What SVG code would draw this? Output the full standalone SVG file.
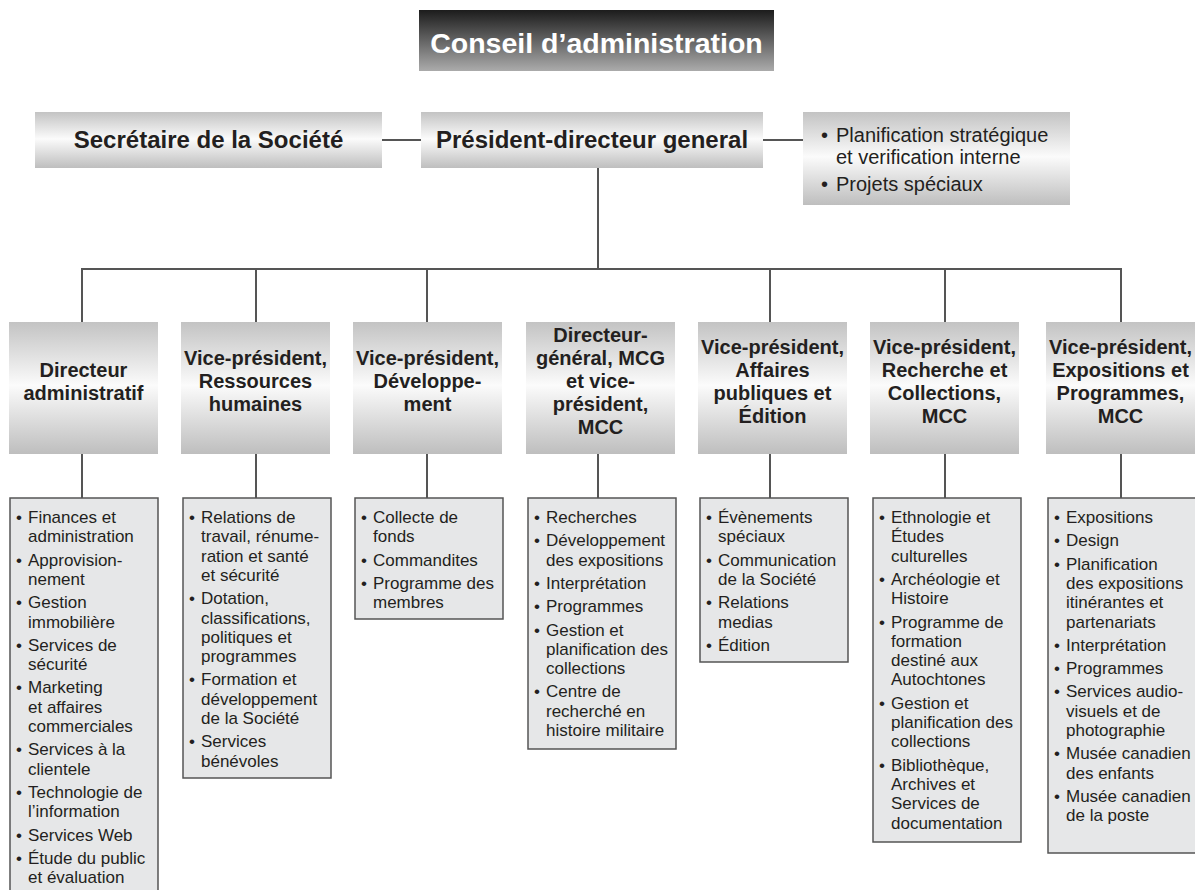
<svg xmlns="http://www.w3.org/2000/svg" width="1195" height="890" viewBox="0 0 1195 890">
<defs>
<linearGradient id="gTitle" x1="0" y1="0" x2="0" y2="1">
<stop offset="0" stop-color="#1c1c1c"/><stop offset="1" stop-color="#ababab"/>
</linearGradient>
<linearGradient id="gBox" x1="0" y1="0" x2="0" y2="1">
<stop offset="0" stop-color="#c3c3c3"/><stop offset="0.48" stop-color="#fbfbfb"/><stop offset="1" stop-color="#bebebe"/>
</linearGradient>
</defs>
<style>
.hb{fill:url(#gBox);}
.lb{fill:#e6e7e8;stroke:#555;stroke-width:1.5;}
.ln{stroke:#555;stroke-width:2;fill:none;}
.t{font-family:"Liberation Sans",Arial,sans-serif;fill:#231f20;}
.tb{font-family:"Liberation Sans",Arial,sans-serif;font-weight:bold;fill:#231f20;}
.h{font-size:20px;text-anchor:middle;}
.li{font-size:17px;}
</style>
<g id="connectors">
<line class="ln" x1="382" y1="140" x2="421" y2="140"/>
<line class="ln" x1="763" y1="140" x2="803" y2="140"/>
<line class="ln" x1="598" y1="168" x2="598" y2="269"/>
<line class="ln" x1="81" y1="269" x2="1122" y2="269"/>
<path class="ln" d="M82 269V322M256 269V322M427 269V322M770 269V322M945 269V322M1121 269V322"/>
<path class="ln" d="M82 454V498M256 454V498M427 454V498M598 454V498M770 454V498M945 454V498M1121 454V498"/>
</g>
<g id="conseil">
<rect x="419" y="10" width="355" height="61" fill="url(#gTitle)"/>
<text x="596.5" y="53" font-family="Liberation Sans,Arial,sans-serif" font-weight="bold" font-size="28.5" fill="#ffffff" text-anchor="middle">Conseil d’administration</text>
</g>
<g id="secretaire">
<rect class="hb" x="35" y="112" width="347" height="56"/>
<text class="tb" x="208.5" y="148" font-size="24" text-anchor="middle">Secrétaire de la Société</text>
</g>
<g id="president">
<rect class="hb" x="421" y="112" width="342" height="56"/>
<text class="tb" x="592" y="148" font-size="24" text-anchor="middle">Président-directeur general</text>
</g>
<g id="planification">
<rect class="hb" x="803" y="112" width="267" height="93"/>
<text class="t" font-size="20"><tspan x="821" y="142">•</tspan><tspan x="836" y="142">Planification stratégique</tspan><tspan x="836" y="164">et verification interne</tspan><tspan x="821" y="191">•</tspan><tspan x="836" y="191">Projets spéciaux</tspan></text>
</g>
<g id="h1">
<rect class="hb" x="9" y="322" width="149" height="132"/>
<text class="tb h"><tspan x="83.5" y="376.5">Directeur</tspan><tspan x="83.5" y="399.5">administratif</tspan></text>
</g>
<g id="h2">
<rect class="hb" x="181" y="322" width="149" height="132"/>
<text class="tb h"><tspan x="255.5" y="365">Vice-président,</tspan><tspan x="255.5" y="388">Ressources</tspan><tspan x="255.5" y="411">humaines</tspan></text>
</g>
<g id="h3">
<rect class="hb" x="353" y="322" width="149" height="132"/>
<text class="tb h"><tspan x="427.5" y="365">Vice-président,</tspan><tspan x="427.5" y="388">Développe-</tspan><tspan x="427.5" y="411">ment</tspan></text>
</g>
<g id="h4">
<rect class="hb" x="526" y="322" width="149" height="132"/>
<text class="tb h"><tspan x="600.5" y="342">Directeur-</tspan><tspan x="600.5" y="365">général, MCG</tspan><tspan x="600.5" y="388">et vice-</tspan><tspan x="600.5" y="411">président,</tspan><tspan x="600.5" y="434">MCC</tspan></text>
</g>
<g id="h5">
<rect class="hb" x="698" y="322" width="149" height="132"/>
<text class="tb h"><tspan x="772.5" y="353.5">Vice-président,</tspan><tspan x="772.5" y="376.5">Affaires</tspan><tspan x="772.5" y="399.5">publiques et</tspan><tspan x="772.5" y="422.5">Édition</tspan></text>
</g>
<g id="h6">
<rect class="hb" x="870" y="322" width="149" height="132"/>
<text class="tb h"><tspan x="944.5" y="353.5">Vice-président,</tspan><tspan x="944.5" y="376.5">Recherche et</tspan><tspan x="944.5" y="399.5">Collections,</tspan><tspan x="944.5" y="422.5">MCC</tspan></text>
</g>
<g id="h7">
<rect class="hb" x="1046" y="322" width="149" height="132"/>
<text class="tb h"><tspan x="1120.5" y="353.5">Vice-président,</tspan><tspan x="1120.5" y="376.5">Expositions et</tspan><tspan x="1120.5" y="399.5">Programmes,</tspan><tspan x="1120.5" y="422.5">MCC</tspan></text>
</g>
<g id="l1">
<rect class="lb" x="10" y="498" width="148" height="400"/>
<text class="t li"><tspan x="16" y="523">•</tspan><tspan x="28" y="523">Finances et</tspan><tspan x="28" y="542.3">administration</tspan><tspan x="16" y="565.6">•</tspan><tspan x="28" y="565.6">Approvision-</tspan><tspan x="28" y="584.9">nement</tspan><tspan x="16" y="608.2">•</tspan><tspan x="28" y="608.2">Gestion</tspan><tspan x="28" y="627.5">immobilière</tspan><tspan x="16" y="650.8">•</tspan><tspan x="28" y="650.8">Services de</tspan><tspan x="28" y="670.1">sécurité</tspan><tspan x="16" y="693.4">•</tspan><tspan x="28" y="693.4">Marketing</tspan><tspan x="28" y="712.7">et affaires</tspan><tspan x="28" y="732">commerciales</tspan><tspan x="16" y="755.3">•</tspan><tspan x="28" y="755.3">Services à la</tspan><tspan x="28" y="774.6">clientele</tspan><tspan x="16" y="797.9">•</tspan><tspan x="28" y="797.9">Technologie de</tspan><tspan x="28" y="817.2">l’information</tspan><tspan x="16" y="840.5">•</tspan><tspan x="28" y="840.5">Services Web</tspan><tspan x="16" y="863.8">•</tspan><tspan x="28" y="863.8">Étude du public</tspan><tspan x="28" y="883.1">et évaluation</tspan></text>
</g>
<g id="l2">
<rect class="lb" x="183" y="498" width="148" height="280"/>
<text class="t li"><tspan x="189" y="523">•</tspan><tspan x="201" y="523">Relations de</tspan><tspan x="201" y="542.3">travail, rénume-</tspan><tspan x="201" y="561.6">ration et santé</tspan><tspan x="201" y="580.9">et sécurité</tspan><tspan x="189" y="604.2">•</tspan><tspan x="201" y="604.2">Dotation,</tspan><tspan x="201" y="623.5">classifications,</tspan><tspan x="201" y="642.8">politiques et</tspan><tspan x="201" y="662.1">programmes</tspan><tspan x="189" y="685.4">•</tspan><tspan x="201" y="685.4">Formation et</tspan><tspan x="201" y="704.7">développement</tspan><tspan x="201" y="724">de la Société</tspan><tspan x="189" y="747.3">•</tspan><tspan x="201" y="747.3">Services</tspan><tspan x="201" y="766.6">bénévoles</tspan></text>
</g>
<g id="l3">
<rect class="lb" x="355" y="498" width="148" height="121"/>
<text class="t li"><tspan x="361" y="523">•</tspan><tspan x="373" y="523">Collecte de</tspan><tspan x="373" y="542.3">fonds</tspan><tspan x="361" y="565.6">•</tspan><tspan x="373" y="565.6">Commandites</tspan><tspan x="361" y="588.9">•</tspan><tspan x="373" y="588.9">Programme des</tspan><tspan x="373" y="608.2">membres</tspan></text>
</g>
<g id="l4">
<rect class="lb" x="528" y="498" width="148" height="251"/>
<text class="t li"><tspan x="534" y="523">•</tspan><tspan x="546" y="523">Recherches</tspan><tspan x="534" y="546.3">•</tspan><tspan x="546" y="546.3">Développement</tspan><tspan x="546" y="565.6">des expositions</tspan><tspan x="534" y="588.9">•</tspan><tspan x="546" y="588.9">Interprétation</tspan><tspan x="534" y="612.2">•</tspan><tspan x="546" y="612.2">Programmes</tspan><tspan x="534" y="635.5">•</tspan><tspan x="546" y="635.5">Gestion et</tspan><tspan x="546" y="654.8">planification des</tspan><tspan x="546" y="674.1">collections</tspan><tspan x="534" y="697.4">•</tspan><tspan x="546" y="697.4">Centre de</tspan><tspan x="546" y="716.7">recherché en</tspan><tspan x="546" y="736">histoire militaire</tspan></text>
</g>
<g id="l5">
<rect class="lb" x="700" y="498" width="148" height="164"/>
<text class="t li"><tspan x="706" y="523">•</tspan><tspan x="718" y="523">Évènements</tspan><tspan x="718" y="542.3">spéciaux</tspan><tspan x="706" y="565.6">•</tspan><tspan x="718" y="565.6">Communication</tspan><tspan x="718" y="584.9">de la Société</tspan><tspan x="706" y="608.2">•</tspan><tspan x="718" y="608.2">Relations</tspan><tspan x="718" y="627.5">medias</tspan><tspan x="706" y="650.8">•</tspan><tspan x="718" y="650.8">Édition</tspan></text>
</g>
<g id="l6">
<rect class="lb" x="873" y="498" width="148" height="344"/>
<text class="t li"><tspan x="879" y="523">•</tspan><tspan x="891" y="523">Ethnologie et</tspan><tspan x="891" y="542.3">Études</tspan><tspan x="891" y="561.6">culturelles</tspan><tspan x="879" y="584.9">•</tspan><tspan x="891" y="584.9">Archéologie et</tspan><tspan x="891" y="604.2">Histoire</tspan><tspan x="879" y="627.5">•</tspan><tspan x="891" y="627.5">Programme de</tspan><tspan x="891" y="646.8">formation</tspan><tspan x="891" y="666.1">destiné aux</tspan><tspan x="891" y="685.4">Autochtones</tspan><tspan x="879" y="708.7">•</tspan><tspan x="891" y="708.7">Gestion et</tspan><tspan x="891" y="728">planification des</tspan><tspan x="891" y="747.3">collections</tspan><tspan x="879" y="770.6">•</tspan><tspan x="891" y="770.6">Bibliothèque,</tspan><tspan x="891" y="789.9">Archives et</tspan><tspan x="891" y="809.2">Services de</tspan><tspan x="891" y="828.5">documentation</tspan></text>
</g>
<g id="l7">
<rect class="lb" x="1048" y="498" width="150" height="355"/>
<text class="t li"><tspan x="1054" y="523">•</tspan><tspan x="1066" y="523">Expositions</tspan><tspan x="1054" y="546.3">•</tspan><tspan x="1066" y="546.3">Design</tspan><tspan x="1054" y="569.6">•</tspan><tspan x="1066" y="569.6">Planification</tspan><tspan x="1066" y="588.9">des expositions</tspan><tspan x="1066" y="608.2">itinérantes et</tspan><tspan x="1066" y="627.5">partenariats</tspan><tspan x="1054" y="650.8">•</tspan><tspan x="1066" y="650.8">Interprétation</tspan><tspan x="1054" y="674.1">•</tspan><tspan x="1066" y="674.1">Programmes</tspan><tspan x="1054" y="697.4">•</tspan><tspan x="1066" y="697.4">Services audio-</tspan><tspan x="1066" y="716.7">visuels et de</tspan><tspan x="1066" y="736">photographie</tspan><tspan x="1054" y="759.3">•</tspan><tspan x="1066" y="759.3">Musée canadien</tspan><tspan x="1066" y="778.6">des enfants</tspan><tspan x="1054" y="801.9">•</tspan><tspan x="1066" y="801.9">Musée canadien</tspan><tspan x="1066" y="821.2">de la poste</tspan></text>
</g>
</svg>
